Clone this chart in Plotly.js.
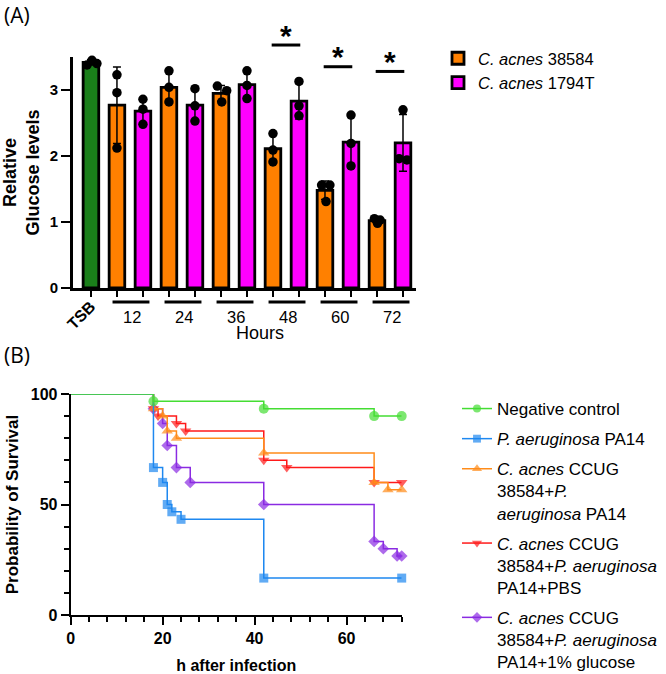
<!DOCTYPE html>
<html><head><meta charset="utf-8">
<script src="https://cdn.plot.ly/plotly-3.0.1.min.js"></script>
<style>html,body{margin:0;padding:0;background:#fff}#chart{width:666px;height:674px}</style>
</head><body><div id="chart"></div>
<script>
const FONT = 'Liberation Sans, Arial, Helvetica, sans-serif';

// ---------- Panel A data ----------
const controlLabel = 'TSB';
const controlMean = [3.42];
const controlSD = [0.04];
const controlDots = [3.38, 3.45, 3.40];
const hourLabels = ['12', '24', '36', '48', '60', '72'];
const strainNames = ['<i>C. acnes</i> 38584', '<i>C. acnes</i> 1794T'];
const acnes38584Mean = [2.77, 3.04, 2.95, 2.11, 1.48, 1.02];
const acnes38584SD = [0.58, 0.24, 0.12, 0.22, 0.14, 0.04];
const acnes38584Dots = [[3.23, 2.96, 2.12], [3.29, 3.04, 2.82], [3.06, 2.99, 2.82], [2.34, 2.09, 1.91], [1.56, 1.56, 1.31], [1.05, 1.03, 0.98]];
const acnes1794TMean = [2.68, 2.77, 3.08, 2.83, 2.21, 2.20];
const acnes1794TSD = [0.19, 0.24, 0.21, 0.27, 0.39, 0.43];
const acnes1794TDots = [[2.86, 2.71, 2.48], [3.02, 2.76, 2.53], [3.29, 3.07, 2.87], [3.13, 2.76, 2.61], [2.62, 2.19, 1.85], [2.70, 1.96, 1.94]];
const significantHours = ['48', '60', '72'];

// ---------- Panel B data (Kaplan-Meier) ----------
const survNames = [
  'Negative control',
  '<i>P. aeruginosa</i> PA14',
  '<i>C. acnes</i> CCUG<br>38584+<i>P.</i><br><i>aeruginosa</i> PA14',
  '<i>C. acnes</i> CCUG<br>38584+<i>P. aeruginosa</i><br>PA14+PBS',
  '<i>C. acnes</i> CCUG<br>38584+<i>P. aeruginosa</i><br>PA14+1% glucose'
];
const negTimes = [18, 42, 66, 72];
const negSurv = [96.7, 93.3, 90, 90];
const paTimes = [18, 20, 21, 22, 24, 42, 72];
const paSurv = [66.7, 60, 50, 46.7, 43.3, 16.7, 16.7];
const caPaTimes = [18, 20, 21, 23, 42, 66, 69, 72];
const caPaSurv = [93.3, 90, 83.3, 80, 73.3, 60, 56.7, 56.7];
const pbsTimes = [18, 19, 23, 25, 42, 47, 66, 72];
const pbsSurv = [93.3, 90, 86.7, 83.3, 70, 66.7, 60, 60];
const glcTimes = [18, 20, 21, 23, 26, 42, 66, 68, 71, 72];
const glcSurv = [93.3, 86.7, 76.7, 66.7, 60, 50, 33.3, 30, 26.7, 26.7];

// ---------- styles ----------
const C_GREEN = '#1a7f1a', C_ORANGE = '#ff8000', C_MAG = '#ff00ff';
const controlJitter = [-0.15, 0.04, 0.23];
const orangeJitter = [[0,0,0],[0,0,0],[-0.14,0.22,0.03],[0,0,0],[-0.13,0.19,0.04],[-0.1,0.12,0.02]];
const magJitter = [[0,0,0],[0,0,0],[0,0,0],[0,0,0],[0,0,0],[0,-0.15,0.15]];

const posO = hourLabels.map((h, i) => 1 + 2 * i);
const posM = hourLabels.map((h, i) => 2 + 2 * i);
const posC = [0];

const barLine = {color: '#000', width: 2.8};
const errStyle = {color: '#000', thickness: 1.5, width: 4};
const traces = [];
traces.push({type: 'bar', x: posC, y: controlMean, width: 0.6, marker: {color: C_GREEN, line: barLine},
  error_y: Object.assign({type: 'data', array: controlSD}, errStyle), showlegend: false, xaxis: 'x', yaxis: 'y'});
traces.push({type: 'bar', x: posO, y: acnes38584Mean, width: 0.6, name: strainNames[0], marker: {color: C_ORANGE, line: barLine},
  error_y: Object.assign({type: 'data', array: acnes38584SD}, errStyle), legend: 'legend', xaxis: 'x', yaxis: 'y'});
traces.push({type: 'bar', x: posM, y: acnes1794TMean, width: 0.6, name: strainNames[1], marker: {color: C_MAG, line: barLine},
  error_y: Object.assign({type: 'data', array: acnes1794TSD}, errStyle), legend: 'legend', xaxis: 'x', yaxis: 'y'});
const dx = [], dy = [];
controlDots.forEach((v, j) => { dx.push(posC[0] + controlJitter[j]); dy.push(v); });
acnes38584Dots.forEach((arr, i) => arr.forEach((v, j) => { dx.push(posO[i] + orangeJitter[i][j]); dy.push(v); }));
acnes1794TDots.forEach((arr, i) => arr.forEach((v, j) => { dx.push(posM[i] + magJitter[i][j]); dy.push(v); }));
traces.push({type: 'scatter', mode: 'markers', x: dx, y: dy, marker: {color: '#000', size: 9.5},
  showlegend: false, cliponaxis: false, xaxis: 'x', yaxis: 'y'});

// KM curves
const kmSeries = [
  {t: glcTimes, s: glcSurv, name: survNames[4], color: '#8a2be2', symbol: 'diamond', size: 9, rank: 5},
  {t: pbsTimes, s: pbsSurv, name: survNames[3], color: '#ff1a1a', symbol: 'triangle-down', size: 10, rank: 4},
  {t: caPaTimes, s: caPaSurv, name: survNames[2], color: '#ff8c1a', symbol: 'triangle-up', size: 10, rank: 3},
  {t: paTimes, s: paSurv, name: survNames[1], color: '#1e88f0', symbol: 'square', size: 9, rank: 2},
  {t: negTimes, s: negSurv, name: survNames[0], color: '#44dd33', symbol: 'circle', size: 10, rank: 1}
];
kmSeries.forEach(k => {
  traces.push({type: 'scatter', mode: 'lines+markers', x: [0].concat(k.t), y: [100].concat(k.s),
    line: {shape: 'hv', color: k.color, width: 1.5},
    marker: {symbol: k.symbol, color: k.color, size: [0].concat(k.t.map(() => k.size)), line: {width: 0}},
    name: k.name, legend: 'legend2', legendrank: k.rank, legendgroup: 'g' + k.rank,
    cliponaxis: false, xaxis: 'x2', yaxis: 'y2'});
});

// annotations & shapes
const yLabelA = 0.5297;
const annotations = [
  {text: '(A)', x: 0.003, y: 0.978, xref: 'paper', yref: 'paper', xanchor: 'left', yanchor: 'middle', showarrow: false,
    font: {family: 'Open Sans, Noto Sans, sans-serif', size: 21, color: '#000'}},
  {text: '(B)', x: 0.003, y: 0.473, xref: 'paper', yref: 'paper', xanchor: 'left', yanchor: 'middle', showarrow: false,
    font: {family: 'Open Sans, Noto Sans, sans-serif', size: 21, color: '#000'}},
  {text: controlLabel, x: posC[0], y: 0.5326, xref: 'x', yref: 'paper', xshift: -10, textangle: -45, showarrow: false,
    font: {family: FONT, size: 16, color: '#000', weight: 'bold'}},
  {text: 'Hours', x: 6.5, y: 0.5055, xref: 'x', yref: 'paper', showarrow: false, font: {family: FONT, size: 18, color: '#000'}}
];
const shapes = [];
hourLabels.forEach((h, i) => {
  annotations.push({text: h, x: (posO[i] + posM[i]) / 2 + 0.07, y: yLabelA, xref: 'x', yref: 'paper', showarrow: false,
    font: {family: FONT, size: 16.5, color: '#000'}});
  shapes.push({type: 'line', xref: 'x', yref: 'paper', x0: posO[i] - 0.17, x1: posM[i] + 0.25, y0: 0.5519, y1: 0.5519,
    line: {color: '#000', width: 3}});
});
const sigLineY = {'48': 0.9332, '60': 0.901, '72': 0.894};
significantHours.forEach(h => {
  const i = hourLabels.indexOf(h);
  shapes.push({type: 'line', xref: 'x', yref: 'paper', x0: posO[i] - 0.05, x1: posM[i] + 0.05, y0: sigLineY[h], y1: sigLineY[h],
    line: {color: '#000', width: 3}});
  annotations.push({text: '<b>*</b>', x: (posO[i] + posM[i]) / 2, y: sigLineY[h] - 0.013, xref: 'x', yref: 'paper', yanchor: 'bottom',
    showarrow: false, font: {family: FONT, size: 30, color: '#000'}});
});

const layout = {
  width: 666, height: 674, margin: {l: 0, r: 0, t: 0, b: 0, autoexpand: false},
  paper_bgcolor: '#fff', plot_bgcolor: 'rgba(0,0,0,0)',
  font: {family: FONT, color: '#000'},
  barmode: 'overlay',
  xaxis: {domain: [73 / 666, 416 / 666], range: [-0.69, 12.5], tickvals: posC.concat(posO, posM), ticktext: posC.concat(posO, posM).map(() => ''),
    ticks: 'outside', ticklen: 6, tickwidth: 2, tickcolor: '#000', showline: true, linewidth: 3, linecolor: '#000',
    showgrid: false, zeroline: false, fixedrange: true, anchor: 'y'},
  yaxis: {domain: [1 - 288 / 674, 1 - 57 / 674], range: [0, 3.5], tickvals: [0, 1, 2, 3], ticks: 'outside', ticklen: 9, tickwidth: 2.5,
    tickcolor: '#000', showline: true, linewidth: 3, linecolor: '#000', showgrid: false, zeroline: false,
    tickfont: {family: FONT, size: 15, weight: 'bold'},
    title: {text: 'Relative<br>Glucose levels', font: {family: FONT, size: 18, weight: 'bold'}, standoff: 10}, anchor: 'x'},
  xaxis2: {domain: [70.7 / 666, 401.7 / 666], range: [0, 72], tickvals: [0, 20, 40, 60], ticks: 'outside', ticklen: 8, tickwidth: 2,
    tickcolor: '#000', showline: true, linewidth: 2, linecolor: '#000', showgrid: false, zeroline: false,
    minor: {dtick: 4, tick0: 0, ticks: 'outside', ticklen: 5, tickwidth: 2, tickcolor: '#000', showgrid: false},
    tickfont: {family: FONT, size: 16, weight: 'bold'},
    title: {text: 'h after infection', font: {family: FONT, size: 16, weight: 'bold'}, standoff: 14}, anchor: 'y2'},
  yaxis2: {domain: [1 - 615 / 674, 1 - 394 / 674], range: [0, 100], tickvals: [0, 50, 100], ticks: 'outside', ticklen: 8, tickwidth: 2,
    tickcolor: '#000', showline: true, linewidth: 2, linecolor: '#000', showgrid: false, zeroline: false,
    minor: {dtick: 10, tick0: 0, ticks: 'outside', ticklen: 5, tickwidth: 2, tickcolor: '#000', showgrid: false},
    tickfont: {family: FONT, size: 16, weight: 'bold'},
    title: {text: 'Probability of Survival', font: {family: FONT, size: 17, weight: 'bold'}, standoff: 8}, anchor: 'x2'},
  legend: {x: 438 / 666, y: 1 - 41 / 674, xanchor: 'left', yanchor: 'top', bgcolor: 'rgba(0,0,0,0)', borderwidth: 0,
    font: {family: FONT, size: 16.5, color: '#000'}, itemwidth: 30},
  legend2: {x: 457 / 666, y: 1 - 391 / 674, xanchor: 'left', yanchor: 'top', bgcolor: 'rgba(0,0,0,0)', borderwidth: 0,
    font: {family: FONT, size: 17, color: '#000'}, itemwidth: 30, valign: 'top', tracegroupgap: 5, traceorder: 'grouped'},
  annotations: annotations, shapes: shapes, showlegend: true
};
Plotly.newPlot('chart', traces, layout, {displayModeBar: false, staticPlot: true});
</script></body></html>
